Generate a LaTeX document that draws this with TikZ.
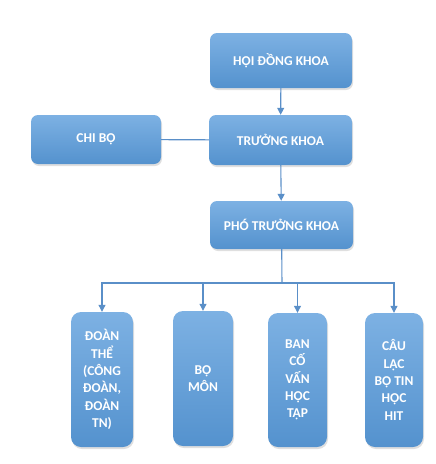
\documentclass[tikz,border=0pt]{standalone}
\usepackage{fontspec}
\setmainfont{Carlito}[BoldFont={Carlito Bold}]
\usetikzlibrary{arrows.meta,shadows}
\definecolor{boxblue}{HTML}{5B9BD5}
\definecolor{boxtop}{HTML}{7DB1E3}
\definecolor{boxlow}{HTML}{5492CE}
\definecolor{linkblue}{HTML}{5A8FC8}

\begin{document}
\begin{tikzpicture}[
    x=1pt,y=-1pt,
    unit/.style={rounded corners=7pt,inner sep=0pt,align=center,text=white,
        font=\bfseries\fontsize{13.5}{17.3}\selectfont,
        top color=boxtop,middle color=boxblue,bottom color=boxlow,
        drop shadow={shadow xshift=1pt,shadow yshift=-2pt,opacity=0.25}},
    link/.style={draw=linkblue,line width=1.1pt},
    tip/.style={link,-{Triangle[length=7pt,width=7pt]}},
]
    \useasboundingbox (0,0) rectangle (436,464);
    \node[unit,minimum width=142pt,minimum height=55pt] (hdk) at (281,60.5) {HỘI ĐỒNG KHOA};
    \node[unit,minimum width=143pt,minimum height=50pt] (tk) at (280.5,140) {TRƯỞNG KHOA};
    \node[unit,minimum width=130pt,minimum height=49pt] (cb) at (96,139.5) {CHI BỘ};
    \node[unit,minimum width=143pt,minimum height=48pt] (ptk) at (281.5,225) {PHÓ TRƯỞNG KHOA};
    % units below the vice dean
    \node[unit,rounded corners=10pt,minimum width=62pt,minimum height=135pt] (dt) at (102,379.5)
        {ĐOÀN\\THỂ\\(CÔNG\\ĐOÀN,\\ĐOÀN\\TN)};
    \node[unit,rounded corners=10pt,minimum width=60pt,minimum height=135pt] (bm) at (203,378.5)
        {BỘ\\MÔN};
    \node[unit,rounded corners=10pt,minimum width=59pt,minimum height=134pt] (bcv) at (297.5,380)
        {BAN\\CỐ\\VẤN\\HỌC\\TẬP};
    \node[unit,rounded corners=10pt,minimum width=58pt,minimum height=134pt] (clb) at (394,380)
        {CÂU\\LẠC\\BỘ TIN\\HỌC\\HIT};
    \coordinate (bus) at (282,283);
    \draw[tip] (hdk) -- (tk);
    \draw[tip] (tk) -- (ptk);
    \draw[link] (cb) -- (tk);
    \draw[link] (ptk) -- (bus);
    \foreach \u in {dt,bm,bcv,clb}
        \draw[tip] (bus) -| (\u.north);
\end{tikzpicture}
\end{document}
